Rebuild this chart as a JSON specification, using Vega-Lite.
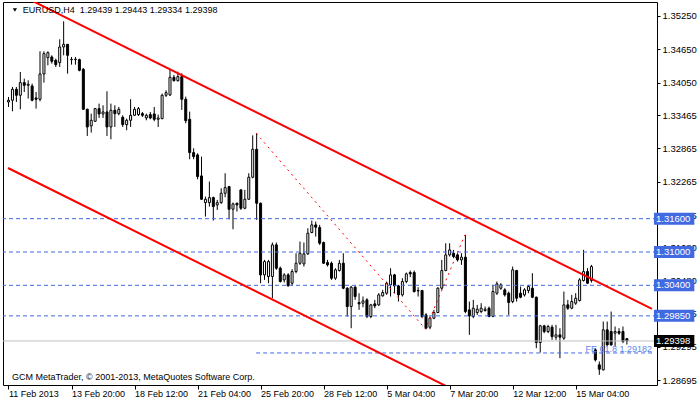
{
"$schema": "https://vega.github.io/schema/vega-lite/v6.json",
"width": 654, "height": 383,
"autosize": {"type": "none"},
"padding": {"left": 3, "top": 2, "right": 43, "bottom": 17},
"background": "white",
"resolve": {"axis": {"x": "independent", "y": "independent"}},
"config": {"view": {"stroke": "black", "strokeWidth": 1}, "axis": {"grid": false, "domain": false, "labelFont": "Liberation Sans", "labelColor": "black", "tickColor": "black", "title": null, "zindex": 0, "labelOverlap": false, "labelBound": false}, "text": {"font": "Liberation Sans"}},
"datasets": {
"candles": [
{"i":0,"o":1.33702,"h":1.33792,"l":1.33612,"c":1.33732},
{"i":1,"o":1.33732,"h":1.33972,"l":1.33534,"c":1.33930},
{"i":2,"o":1.33930,"h":1.33972,"l":1.33702,"c":1.33822},
{"i":3,"o":1.33822,"h":1.34242,"l":1.33570,"c":1.34050},
{"i":4,"o":1.34050,"h":1.34122,"l":1.33882,"c":1.34002},
{"i":5,"o":1.34002,"h":1.34092,"l":1.33762,"c":1.34020},
{"i":6,"o":1.33990,"h":1.34032,"l":1.33714,"c":1.33732},
{"i":7,"o":1.33774,"h":1.33882,"l":1.33582,"c":1.33750},
{"i":8,"o":1.33750,"h":1.34614,"l":1.33714,"c":1.34206},
{"i":9,"o":1.34206,"h":1.34614,"l":1.34050,"c":1.34572},
{"i":10,"o":1.34500,"h":1.34614,"l":1.34362,"c":1.34590},
{"i":11,"o":1.34512,"h":1.34542,"l":1.34392,"c":1.34434},
{"i":12,"o":1.34452,"h":1.34482,"l":1.34332,"c":1.34374},
{"i":13,"o":1.34410,"h":1.34830,"l":1.34332,"c":1.34692},
{"i":14,"o":1.34692,"h":1.35154,"l":1.34542,"c":1.34740},
{"i":15,"o":1.34740,"h":1.34740,"l":1.34212,"c":1.34542},
{"i":16,"o":1.34464,"h":1.34512,"l":1.34374,"c":1.34470},
{"i":17,"o":1.34470,"h":1.34512,"l":1.34374,"c":1.34464},
{"i":18,"o":1.34464,"h":1.34482,"l":1.34254,"c":1.34272},
{"i":19,"o":1.34290,"h":1.34314,"l":1.33570,"c":1.33570},
{"i":20,"o":1.33570,"h":1.33582,"l":1.33090,"c":1.33252},
{"i":21,"o":1.33270,"h":1.33492,"l":1.33150,"c":1.33372},
{"i":22,"o":1.33354,"h":1.33594,"l":1.33342,"c":1.33582},
{"i":23,"o":1.33582,"h":1.33672,"l":1.33414,"c":1.33486},
{"i":24,"o":1.33486,"h":1.33642,"l":1.33414,"c":1.33522},
{"i":25,"o":1.33522,"h":1.33894,"l":1.33090,"c":1.33252},
{"i":26,"o":1.33252,"h":1.33672,"l":1.33030,"c":1.33552},
{"i":27,"o":1.33552,"h":1.33642,"l":1.33252,"c":1.33492},
{"i":28,"o":1.33492,"h":1.33612,"l":1.33462,"c":1.33570},
{"i":29,"o":1.33426,"h":1.33462,"l":1.33252,"c":1.33294},
{"i":30,"o":1.33294,"h":1.33402,"l":1.33192,"c":1.33372},
{"i":31,"o":1.33372,"h":1.33752,"l":1.33252,"c":1.33462},
{"i":32,"o":1.33462,"h":1.33612,"l":1.33450,"c":1.33570},
{"i":33,"o":1.33474,"h":1.33612,"l":1.33450,"c":1.33582},
{"i":34,"o":1.33492,"h":1.33522,"l":1.33432,"c":1.33462},
{"i":35,"o":1.33414,"h":1.33492,"l":1.33372,"c":1.33462},
{"i":36,"o":1.33474,"h":1.33522,"l":1.33390,"c":1.33414},
{"i":37,"o":1.33486,"h":1.33612,"l":1.33354,"c":1.33390},
{"i":38,"o":1.33390,"h":1.33474,"l":1.33252,"c":1.33414},
{"i":39,"o":1.33402,"h":1.33852,"l":1.33390,"c":1.33822},
{"i":40,"o":1.33822,"h":1.33912,"l":1.33792,"c":1.33870},
{"i":41,"o":1.33828,"h":1.34278,"l":1.33810,"c":1.34146},
{"i":42,"o":1.34146,"h":1.34188,"l":1.34068,"c":1.34086},
{"i":43,"o":1.34086,"h":1.34248,"l":1.34068,"c":1.34158},
{"i":44,"o":1.34158,"h":1.34218,"l":1.33558,"c":1.33750},
{"i":45,"o":1.33750,"h":1.33798,"l":1.33318,"c":1.33366},
{"i":46,"o":1.33390,"h":1.33528,"l":1.32670,"c":1.32790},
{"i":47,"o":1.32790,"h":1.32868,"l":1.32670,"c":1.32718},
{"i":48,"o":1.32748,"h":1.32778,"l":1.32310,"c":1.32358},
{"i":49,"o":1.32370,"h":1.32718,"l":1.31938,"c":1.31950},
{"i":50,"o":1.31890,"h":1.31998,"l":1.31638,"c":1.31950},
{"i":51,"o":1.31890,"h":1.32268,"l":1.31818,"c":1.31980},
{"i":52,"o":1.31980,"h":1.31998,"l":1.31566,"c":1.31818},
{"i":53,"o":1.31848,"h":1.31938,"l":1.31758,"c":1.31890},
{"i":54,"o":1.31890,"h":1.32148,"l":1.31866,"c":1.32058},
{"i":55,"o":1.32058,"h":1.32418,"l":1.31986,"c":1.32160},
{"i":56,"o":1.32178,"h":1.32190,"l":1.31590,"c":1.31770},
{"i":57,"o":1.31770,"h":1.31890,"l":1.31410,"c":1.31866},
{"i":58,"o":1.31878,"h":1.31890,"l":1.31728,"c":1.31848},
{"i":59,"o":1.32118,"h":1.32130,"l":1.31758,"c":1.31788},
{"i":60,"o":1.31788,"h":1.32118,"l":1.31770,"c":1.31950},
{"i":61,"o":1.31950,"h":1.32418,"l":1.31938,"c":1.32346},
{"i":62,"o":1.32346,"h":1.33100,"l":1.32328,"c":1.32850},
{"i":63,"o":1.32850,"h":1.33140,"l":1.31578,"c":1.31878},
{"i":64,"o":1.31878,"h":1.31890,"l":1.30438,"c":1.30588},
{"i":65,"o":1.30588,"h":1.30858,"l":1.30498,"c":1.30828},
{"i":66,"o":1.30558,"h":1.30858,"l":1.30438,"c":1.30828},
{"i":67,"o":1.30558,"h":1.31170,"l":1.30168,"c":1.31128},
{"i":68,"o":1.31128,"h":1.31170,"l":1.30678,"c":1.30708},
{"i":69,"o":1.30708,"h":1.30738,"l":1.30450,"c":1.30468},
{"i":70,"o":1.30498,"h":1.30618,"l":1.30450,"c":1.30588},
{"i":71,"o":1.30588,"h":1.30618,"l":1.30378,"c":1.30390},
{"i":72,"o":1.30438,"h":1.30690,"l":1.30390,"c":1.30648},
{"i":73,"o":1.30648,"h":1.30978,"l":1.30618,"c":1.30798},
{"i":74,"o":1.30798,"h":1.31188,"l":1.30768,"c":1.30978},
{"i":75,"o":1.30786,"h":1.31170,"l":1.30738,"c":1.30966},
{"i":76,"o":1.30966,"h":1.31428,"l":1.30948,"c":1.31338},
{"i":77,"o":1.31350,"h":1.31566,"l":1.31338,"c":1.31488},
{"i":78,"o":1.31488,"h":1.31548,"l":1.31278,"c":1.31446},
{"i":79,"o":1.31440,"h":1.31488,"l":1.31128,"c":1.31158},
{"i":80,"o":1.31170,"h":1.31188,"l":1.30786,"c":1.30798},
{"i":81,"o":1.30810,"h":1.30858,"l":1.30738,"c":1.30768},
{"i":82,"o":1.30798,"h":1.30828,"l":1.30498,"c":1.30528},
{"i":83,"o":1.30528,"h":1.30708,"l":1.30498,"c":1.30678},
{"i":84,"o":1.30666,"h":1.30858,"l":1.30648,"c":1.30798},
{"i":85,"o":1.30798,"h":1.30978,"l":1.30330,"c":1.30348},
{"i":86,"o":1.30348,"h":1.30366,"l":1.29838,"c":1.30018},
{"i":87,"o":1.30018,"h":1.30390,"l":1.29628,"c":1.30366},
{"i":88,"o":1.30366,"h":1.30390,"l":1.30138,"c":1.30198},
{"i":89,"o":1.30090,"h":1.30258,"l":1.29958,"c":1.30066},
{"i":90,"o":1.30078,"h":1.30198,"l":1.30006,"c":1.30120},
{"i":91,"o":1.30138,"h":1.30168,"l":1.29808,"c":1.29838},
{"i":92,"o":1.29838,"h":1.30066,"l":1.29808,"c":1.30048},
{"i":93,"o":1.30066,"h":1.30138,"l":1.29988,"c":1.30030},
{"i":94,"o":1.30048,"h":1.30258,"l":1.30030,"c":1.30228},
{"i":95,"o":1.30210,"h":1.30318,"l":1.30198,"c":1.30270},
{"i":96,"o":1.30258,"h":1.30468,"l":1.30228,"c":1.30438},
{"i":97,"o":1.30408,"h":1.30708,"l":1.30198,"c":1.30588},
{"i":98,"o":1.30588,"h":1.30606,"l":1.30258,"c":1.30390},
{"i":99,"o":1.30390,"h":1.30408,"l":1.30108,"c":1.30228},
{"i":100,"o":1.30228,"h":1.30528,"l":1.30198,"c":1.30468},
{"i":101,"o":1.30468,"h":1.30630,"l":1.30438,"c":1.30606},
{"i":102,"o":1.30630,"h":1.30666,"l":1.30546,"c":1.30606},
{"i":103,"o":1.30630,"h":1.30666,"l":1.30270,"c":1.30288},
{"i":104,"o":1.30306,"h":1.30366,"l":1.30198,"c":1.30300},
{"i":105,"o":1.30306,"h":1.30318,"l":1.29808,"c":1.29838},
{"i":106,"o":1.29868,"h":1.29898,"l":1.29610,"c":1.29628},
{"i":107,"o":1.29646,"h":1.29838,"l":1.29610,"c":1.29808},
{"i":108,"o":1.29808,"h":1.29958,"l":1.29790,"c":1.29910},
{"i":109,"o":1.29910,"h":1.30366,"l":1.29898,"c":1.30348},
{"i":110,"o":1.30348,"h":1.30858,"l":1.30318,"c":1.30666},
{"i":111,"o":1.30666,"h":1.31158,"l":1.30654,"c":1.30948},
{"i":112,"o":1.30948,"h":1.31158,"l":1.30918,"c":1.31038},
{"i":113,"o":1.30978,"h":1.31038,"l":1.30888,"c":1.30918},
{"i":114,"o":1.30948,"h":1.30978,"l":1.30828,"c":1.30858},
{"i":115,"o":1.30858,"h":1.30978,"l":1.30768,"c":1.30906},
{"i":116,"o":1.30906,"h":1.31308,"l":1.29898,"c":1.29928},
{"i":117,"o":1.29958,"h":1.30108,"l":1.29508,"c":1.29850},
{"i":118,"o":1.29838,"h":1.30138,"l":1.29808,"c":1.29988},
{"i":119,"o":1.29910,"h":1.30048,"l":1.29868,"c":1.29970},
{"i":120,"o":1.29928,"h":1.30078,"l":1.29898,"c":1.29988},
{"i":121,"o":1.29946,"h":1.30018,"l":1.29928,"c":1.29970},
{"i":122,"o":1.29988,"h":1.30018,"l":1.29826,"c":1.29838},
{"i":123,"o":1.29838,"h":1.30408,"l":1.29826,"c":1.30288},
{"i":124,"o":1.30258,"h":1.30468,"l":1.30228,"c":1.30426},
{"i":125,"o":1.30348,"h":1.30438,"l":1.30318,"c":1.30408},
{"i":126,"o":1.30318,"h":1.30348,"l":1.30198,"c":1.30228},
{"i":127,"o":1.30258,"h":1.30288,"l":1.29868,"c":1.30090},
{"i":128,"o":1.30108,"h":1.30738,"l":1.30078,"c":1.30678},
{"i":129,"o":1.30666,"h":1.30678,"l":1.30108,"c":1.30168},
{"i":130,"o":1.30258,"h":1.30378,"l":1.30168,"c":1.30186},
{"i":131,"o":1.30228,"h":1.30348,"l":1.30198,"c":1.30318},
{"i":132,"o":1.30306,"h":1.30408,"l":1.30258,"c":1.30378},
{"i":133,"o":1.30348,"h":1.30618,"l":1.30168,"c":1.30186},
{"i":134,"o":1.30186,"h":1.30198,"l":1.29268,"c":1.29370},
{"i":135,"o":1.29370,"h":1.29688,"l":1.29190,"c":1.29670},
{"i":136,"o":1.29670,"h":1.29688,"l":1.29538,"c":1.29568},
{"i":137,"o":1.29568,"h":1.29688,"l":1.29538,"c":1.29658},
{"i":138,"o":1.29646,"h":1.29688,"l":1.29418,"c":1.29478},
{"i":139,"o":1.29466,"h":1.29688,"l":1.29418,"c":1.29508},
{"i":140,"o":1.29508,"h":1.29628,"l":1.29088,"c":1.29466},
{"i":141,"o":1.29448,"h":1.30288,"l":1.29418,"c":1.30048},
{"i":142,"o":1.30048,"h":1.30138,"l":1.29958,"c":1.29988},
{"i":143,"o":1.29988,"h":1.30228,"l":1.29970,"c":1.30108},
{"i":144,"o":1.30078,"h":1.30258,"l":1.30048,"c":1.30168},
{"i":145,"o":1.30126,"h":1.30528,"l":1.30108,"c":1.30498},
{"i":146,"o":1.30486,"h":1.31038,"l":1.30468,"c":1.30648},
{"i":147,"o":1.30648,"h":1.30708,"l":1.30426,"c":1.30438},
{"i":148,"o":1.30486,"h":1.30768,"l":1.30450,"c":1.30738},
{"i":149,"o":1.29238,"h":1.29268,"l":1.29028,"c":1.29058},
{"i":150,"o":1.28968,"h":1.29028,"l":1.28788,"c":1.28890},
{"i":151,"o":1.28878,"h":1.29748,"l":1.28866,"c":1.29598},
{"i":152,"o":1.29598,"h":1.29748,"l":1.29310,"c":1.29328},
{"i":153,"o":1.29568,"h":1.29928,"l":1.29310,"c":1.29328},
{"i":154,"o":1.29538,"h":1.29658,"l":1.29298,"c":1.29568},
{"i":155,"o":1.29568,"h":1.29628,"l":1.29508,"c":1.29538},
{"i":156,"o":1.29568,"h":1.29658,"l":1.29358,"c":1.29388},
{"i":157,"o":1.29439,"h":1.29443,"l":1.29334,"c":1.29398}
],
"channel": [
{"line":"upper","i":0,"p":1.35740},
{"line":"upper","i":163.5,"p":1.29974},
{"line":"lower","i":0,"p":1.32513},
{"line":"lower","i":163.5,"p":1.26740}
],
"fe": [
{"i":63,"p":1.33140},
{"i":106,"p":1.29610},
{"i":116,"p":1.31308}
],
"levels": [
{"p":1.31600},
{"p":1.31000},
{"p":1.30400},
{"p":1.29850}
]
},
"layer": [
{
"data": {"name": "candles"},
"mark": {"type": "rule", "color": "black", "strokeWidth": 1, "xOffset": 0.5, "clip": true},
"encoding": {
"x": {"field": "i", "type": "quantitative", "scale": {"domain": [0, 163.5], "nice": false, "zero": false},
"axis": {"orient": "bottom", "values": [0,16,32,48,64,80,96,112,128,144], "labelExpr": "['11 Feb 2013','13 Feb 20:00','18 Feb 12:00','21 Feb 04:00','25 Feb 20:00','28 Feb 12:00','5 Mar 04:00','7 Mar 20:00','12 Mar 12:00','15 Mar 04:00'][round(datum.value/16)]", "labelAlign": "left", "labelBaseline": "top", "tickSize": 4, "labelPadding": 0, "labelFontSize": 9, "labelFlush": false, "labelOverlap": false, "tickOffset": 0.5}},
"y": {"field": "l", "type": "quantitative", "scale": {"domain": [1.28605, 1.35502], "nice": false, "zero": false},
"axis": {"orient": "right", "values": [1.3525,1.3465,1.3405,1.33465,1.32865,1.32265,1.31665,1.3108,1.3048,1.29895,1.29295,1.28695], "format": ".5f", "tickSize": 3, "labelPadding": 2, "labelFontSize": 9.5, "labelOverlap": false, "labelSeparation": 0, "labelBaseline": "middle"}},
"y2": {"field": "h"}
}
},
{
"data": {"name": "candles"},
"mark": {"type": "bar", "width": 2, "stroke": "black", "strokeWidth": 1, "xOffset": 0.5, "clip": true},
"encoding": {
"x": {"field": "i", "type": "quantitative", "axis": null},
"y": {"field": "o", "type": "quantitative", "axis": null},
"y2": {"field": "c"},
"fill": {"condition": {"test": "datum.c >= datum.o", "value": "white"}, "value": "black"}
}
},
{
"data": {"name": "levels"},
"mark": {"type": "rule", "color": "#4169E1", "strokeWidth": 1, "strokeDash": [4, 3]},
"encoding": {"y": {"field": "p", "type": "quantitative", "axis": null}}
},
{
"data": {"values": [{}]},
"mark": {"type": "rule", "color": "#C0C0C0", "strokeWidth": 1},
"encoding": {"y": {"datum": 1.29398, "type": "quantitative", "axis": null}}
},
{
"data": {"values": [{}]},
"mark": {"type": "rule", "color": "#4169E1", "strokeWidth": 1, "strokeDash": [4, 3]},
"encoding": {"x": {"datum": 63, "type": "quantitative", "axis": null}, "x2": {"datum": 163.5}, "y": {"datum": 1.29182, "type": "quantitative", "axis": null}}
},
{
"data": {"name": "channel"},
"mark": {"type": "line", "color": "#FF0000", "strokeWidth": 2, "clip": true},
"encoding": {"x": {"field": "i", "type": "quantitative", "axis": null}, "y": {"field": "p", "type": "quantitative", "axis": null}, "detail": {"field": "line"}}
},
{
"data": {"name": "fe"},
"mark": {"type": "line", "color": "#FF0000", "strokeWidth": 1, "strokeDash": [2, 4]},
"encoding": {"x": {"field": "i", "type": "quantitative", "axis": null}, "y": {"field": "p", "type": "quantitative", "axis": null}}
},
{
"data": {"values": [{}]},
"mark": {"type": "text", "align": "right", "baseline": "alphabetic", "dy": -1, "fontSize": 9, "color": "#5F84EA", "text": "FE 61.8 1.29182"},
"encoding": {"x": {"datum": 163.5, "type": "quantitative", "axis": null}, "y": {"datum": 1.29182, "type": "quantitative", "axis": null}}
},
{
"data": {"values": [{}]},
"mark": {"type": "text", "align": "left", "baseline": "middle", "fontSize": 9, "color": "black", "text": "EURUSD,H4 \u00a01.29439 1.29443 1.29334 1.29398"},
"encoding": {"x": {"datum": 3.75, "type": "quantitative", "axis": null}, "y": {"datum": 1.35358, "type": "quantitative", "axis": null}}
},
{
"data": {"values": [{}]},
"mark": {"type": "point", "shape": "triangle-down", "filled": true, "color": "black", "size": 18, "opacity": 1},
"encoding": {"x": {"datum": 1.75, "type": "quantitative", "axis": null}, "y": {"datum": 1.35358, "type": "quantitative", "axis": null}}
},
{
"data": {"values": [{}]},
"mark": {"type": "text", "align": "left", "baseline": "middle", "fontSize": 9, "color": "black", "text": "GCM MetaTrader, © 2001-2013, MetaQuotes Software Corp."},
"encoding": {"x": {"datum": 1, "type": "quantitative", "axis": null}, "y": {"datum": 1.28758, "type": "quantitative", "axis": null}}
},
{
"data": {"name": "levels"},
"mark": {"type": "rule", "color": "#4169E1", "strokeWidth": 12},
"encoding": {"x": {"datum": 164, "type": "quantitative", "axis": null}, "x2": {"datum": 174.25}, "y": {"field": "p", "type": "quantitative", "axis": null}}
},
{
"data": {"name": "levels"},
"mark": {"type": "text", "align": "left", "baseline": "middle", "fontSize": 9.5, "color": "white", "dx": 2},
"encoding": {"x": {"datum": 164, "type": "quantitative", "axis": null}, "y": {"field": "p", "type": "quantitative", "axis": null}, "text": {"field": "p", "type": "quantitative", "format": ".5f"}}
},
{
"data": {"values": [{}]},
"mark": {"type": "rule", "color": "black", "strokeWidth": 12},
"encoding": {"x": {"datum": 164, "type": "quantitative", "axis": null}, "x2": {"datum": 174.25}, "y": {"datum": 1.29398, "type": "quantitative", "axis": null}}
},
{
"data": {"values": [{}]},
"mark": {"type": "text", "align": "left", "baseline": "middle", "fontSize": 9.5, "color": "white", "dx": 2, "text": "1.29398"},
"encoding": {"x": {"datum": 164, "type": "quantitative", "axis": null}, "y": {"datum": 1.29398, "type": "quantitative", "axis": null}}
}
]
}
